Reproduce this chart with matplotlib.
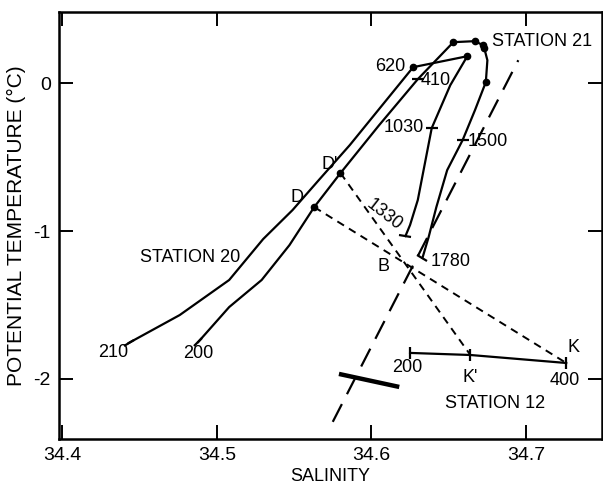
import matplotlib
matplotlib.use("Agg")
import matplotlib.pyplot as plt
from matplotlib.markers import MarkerStyle
from matplotlib.transforms import Affine2D

plt.rcParams["font.family"] = ["Liberation Sans", "DejaVu Sans"]
plt.rcParams["font.size"] = 13

# station 20: 210 m -> 620 m -> 1030 m -> 1330 m
st20_sal = [34.443, 34.476, 34.508, 34.530, 34.549, 34.566, 34.586, 34.607, 34.627,
            34.662, 34.651, 34.639, 34.635, 34.630, 34.625, 34.622]
st20_temp = [-1.757, -1.568, -1.331, -1.054, -0.858, -0.655, -0.419, -0.149, 0.108,
             0.182, -0.014, -0.304, -0.520, -0.790, -0.959, -1.034]

# station 21: 200 m -> 410 m -> 1500 m -> 1780 m
st21_sal = [34.488, 34.508, 34.529, 34.547, 34.563, 34.580, 34.605, 34.630, 34.653,
            34.667, 34.672, 34.673, 34.675, 34.674, 34.667, 34.659, 34.649, 34.642,
            34.637, 34.633]
st21_temp = [-1.750, -1.514, -1.331, -1.095, -0.838, -0.608, -0.284, 0.027, 0.277,
             0.284, 0.257, 0.236, 0.155, 0.007, -0.182, -0.385, -0.588, -0.838,
             -1.041, -1.182]

# station 12: 200 m, K', 400 m (K)
st12_sal = [34.625, 34.664, 34.726]
st12_temp = [-1.824, -1.838, -1.892]

# sample dots
dot_sal = [34.627, 34.662, 34.653, 34.667, 34.672, 34.673, 34.674, 34.563, 34.580]
dot_temp = [0.108, 0.182, 0.277, 0.284, 0.257, 0.236, 0.007, -0.838, -0.608]

# mixing lines D-K and D'-K'
mix_dk_sal = [34.563, 34.726]
mix_dk_temp = [-0.838, -1.892]
mix_dk2_sal = [34.580, 34.664]
mix_dk2_temp = [-0.608, -1.838]

# long dashed line through B
dash_sal = [34.575, 34.695]
dash_temp = [-2.29, 0.155]

# thick bar
bar_sal = [34.579, 34.618]
bar_temp = [-1.966, -2.054]

# depth ticks: (salinity, temperature, tick angle)
depth_ticks = [
    (34.443, -1.757, -60), (34.488, -1.750, -45), (34.630, 0.027, 90),
    (34.639, -0.304, 90), (34.659, -0.385, 90), (34.622, -1.034, 80),
    (34.633, -1.182, 60), (34.625, -1.824, 0), (34.664, -1.838, 0),
    (34.726, -1.892, 0),
]

fig = plt.figure(figsize=(6.03, 4.86), dpi=100)
ax = fig.add_axes([0.098, 0.097, 0.9, 0.878])

lw = 1.6
ax.plot(st20_sal, st20_temp, color="black", lw=lw)
ax.plot(st21_sal, st21_temp, color="black", lw=lw)
ax.plot(st12_sal, st12_temp, color="black", lw=lw)
ax.plot(dot_sal, dot_temp, "o", color="black", ms=4.5)
ax.plot(mix_dk_sal, mix_dk_temp, color="black", lw=1.4, dashes=(4, 3))
ax.plot(mix_dk2_sal, mix_dk2_temp, color="black", lw=1.4, dashes=(4, 3))
ax.plot(dash_sal, dash_temp, color="black", lw=1.6, dashes=(9, 5))
ax.plot(bar_sal, bar_temp, color="black", lw=3.2, solid_capstyle="butt")

for s, t, ang in depth_ticks:
    m = MarkerStyle("|", transform=Affine2D().rotate_deg(ang))
    ax.plot([s], [t], marker=m, color="black", ms=9, mew=1.6)

txt = dict(fontsize=13, color="black")
ax.text(34.678, 0.28, "STATION 21", ha="left", va="center", **txt)
ax.text(34.483, -1.18, "STATION 20", ha="center", va="center", **txt)
ax.text(34.680, -2.169, "STATION 12", ha="center", va="center", **txt)
ax.text(34.622, 0.115, "620", ha="right", va="center", **txt)
ax.text(34.632, 0.02, "410", ha="left", va="center", **txt)
ax.text(34.634, -0.30, "1030", ha="right", va="center", **txt)
ax.text(34.662, -0.395, "1500", ha="left", va="center", **txt)
ax.text(34.608, -0.89, "1330", ha="center", va="center", rotation=-38, **txt)
ax.text(34.638, -1.205, "1780", ha="left", va="center", **txt)
ax.text(34.443, -1.824, "210", ha="right", va="center", **txt)
ax.text(34.488, -1.83, "200", ha="center", va="center", **txt)
ax.text(34.623, -1.92, "200", ha="center", va="center", **txt)
ax.text(34.664, -1.99, "K'", ha="center", va="center", **txt)
ax.text(34.725, -2.01, "400", ha="center", va="center", **txt)
ax.text(34.731, -1.79, "K", ha="center", va="center", **txt)
ax.text(34.556, -0.77, "D", ha="right", va="center", **txt)
ax.text(34.578, -0.55, "D'", ha="right", va="center", **txt)
ax.text(34.608, -1.24, "B", ha="center", va="center", **txt)

ax.set_xlim(34.398, 34.749)
ax.set_ylim(-2.405, 0.48)
ax.set_xticks([34.4, 34.5, 34.6, 34.7])
ax.set_xticklabels(["34.4", "34.5", "34.6", "34.7"])
ax.set_yticks([0, -1, -2])
ax.set_yticklabels(["0", "-1", "-2"])
ax.tick_params(direction="in", length=10, width=1.4, top=True, right=True,
               labelsize=14, pad=6)
for sp in ax.spines.values():
    sp.set_linewidth(1.8)
ax.set_xlabel("SALINITY", fontsize=13, labelpad=3)
ax.set_ylabel("POTENTIAL TEMPERATURE (\u00b0C)", fontsize=15, labelpad=5)

fig.savefig("out.png", dpi=100)
